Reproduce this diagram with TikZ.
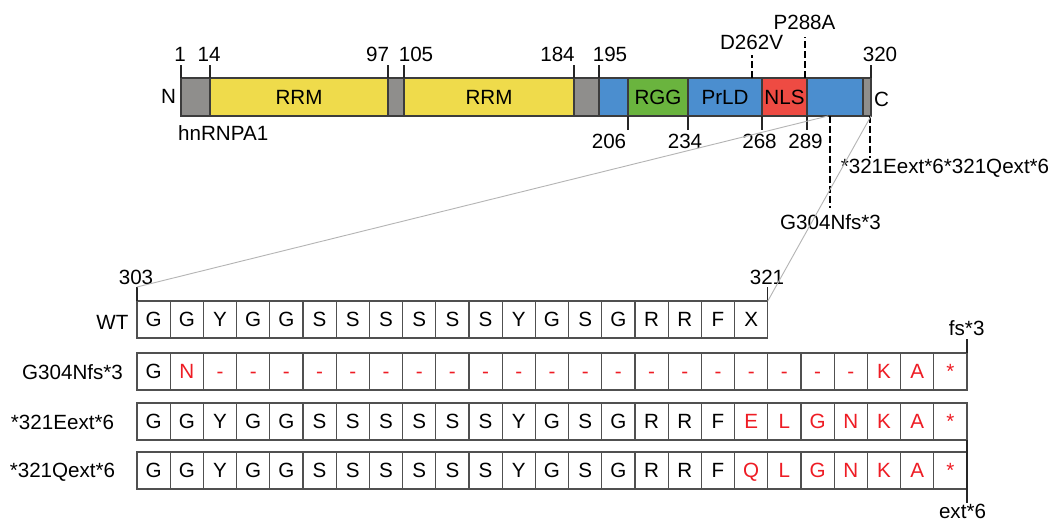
\documentclass[tikz,border=0pt]{standalone}
\usepackage{fontspec}
\setmainfont{Liberation Sans}
\definecolor{grayseg}{HTML}{8F8E8C}
\definecolor{yelseg}{HTML}{EFDB4B}
\definecolor{bluseg}{HTML}{4B8ECF}
\definecolor{greseg}{HTML}{6AB43E}
\definecolor{redseg}{HTML}{EE4B43}
\definecolor{bord}{HTML}{3C3C3C}
\definecolor{cellbord}{HTML}{505050}
\definecolor{redt}{HTML}{EE1C24}
\definecolor{zoomgray}{HTML}{B4B4B4}
\newcommand\rd[1]{\textcolor{redt}{#1}}
\newcommand\segm[5]{\node[seg,fill=#4,minimum width={#3-#2}] (#1) at (#2,97) {#5};}
\begin{document}
\begin{tikzpicture}[x=1pt,y=-1pt,
  font=\fontsize{20.6}{24}\selectfont,
  seg/.style={draw=bord,line width=1.2pt,inner sep=0pt,outer sep=0pt,minimum height=38pt,anchor=west},
  cell/.style={draw=cellbord,line width=1.2pt,inner sep=0pt,outer sep=0pt,minimum width=33.2pt,minimum height=37pt,text height=14.5pt,text depth=0pt,anchor=west},
  tick/.style={draw=black!85,line width=1.2pt},
  mutline/.style={draw=black,line width=2.4pt,dash pattern=on 7pt off 3pt},
  zoomline/.style={draw=zoomgray,line width=0.9pt},
  lab/.style={inner sep=0pt,anchor=base}]
\useasboundingbox (0,0) rectangle (1054,521);
\fill[white] (0,0) rectangle (1054,521);

% ---- protein bar ----
\segm{s1}{181}{210}{grayseg}{}
\segm{s2}{210}{388}{yelseg}{RRM}
\segm{s3}{388}{404}{grayseg}{}
\segm{s4}{404}{574}{yelseg}{RRM}
\segm{s5}{574}{599}{grayseg}{}
\segm{s6}{599}{628}{bluseg}{}
\segm{s7}{628}{688}{greseg}{RGG}
\segm{s8}{688}{762}{bluseg}{PrLD}
\segm{s9}{762}{807}{redseg}{NLS}
\segm{s10}{807}{863}{bluseg}{}
\segm{s11}{863}{871}{grayseg}{}

\node[lab] (lN) at (168.5,104) {N};
\node[lab] (lC) at (881.5,107) {C};
\node[lab,anchor=base west] (lname) at (178,141) {hnRNPA1};

% top ticks
\draw[tick] (s1.north west) -- ++(0,-13);
\draw[tick] (s2.north west) -- ++(0,-13);
\draw[tick] (s3.north west) -- ++(0,-13);
\draw[tick] (s4.north west) -- ++(0,-13);
\draw[tick] (s5.north west) -- ++(0,-13);
\draw[tick] (s6.north west) -- ++(0,-13);
\draw[tick] (s11.north east) -- ++(0,-13);
\node[lab] (n1) at (180,62) {1};
\node[lab] (n14) at (209,62) {14};
\node[lab] (n97) at (377.5,62) {97};
\node[lab] (n105) at (416,62) {105};
\node[lab] (n184) at (557.5,62) {184};
\node[lab] (n195) at (610,62) {195};
\node[lab] (n320) at (880,62) {320};

% bottom ticks
\draw[tick] (s7.south west) -- ++(0,14);
\draw[tick] (s8.south west) -- ++(0,14);
\draw[tick] (s9.south west) -- ++(0,14);
\draw[tick] (s10.south west) -- ++(0,14);
\node[lab] (n206) at (609,149) {206};
\node[lab] (n234) at (685,149) {234};
\node[lab] (n268) at (759.5,149) {268};
\node[lab] (n289) at (805.5,149) {289};

% mutations
\coordinate (md262) at (752,78);
\coordinate (mp288) at (805,78);
\coordinate (mg304) at (830,116);
\coordinate (mext) at (870,116);
\draw[mutline] (md262) -- ++(0,-23);
\draw[mutline] (mp288) -- ++(0,-41);
\draw[mutline] (mg304) -- ++(0,92);
\draw[mutline] (mext) -- ++(0,42);
\node[lab] (lD) at (751.5,50) {D262V};
\node[lab] (lP) at (804.5,30) {P288A};
\node[lab] (lG) at (830.5,230) {G304Nfs*3};
\node[lab] (lE) at (945,174) {*321Eext*6*321Qext*6};

% ---- sequence rows ----
\foreach \t [count=\i] in {G,G,Y,G,G,S,S,S,S,S,S,Y,G,S,G,R,R,F,X}
  \node[cell] (wt\i) at ({137+(\i-1)*33.2},319.5) {\t};
\foreach \t [count=\i] in {G,\rd{N},\rd{-},\rd{-},\rd{-},\rd{-},\rd{-},\rd{-},\rd{-},\rd{-},\rd{-},\rd{-},\rd{-},\rd{-},\rd{-},\rd{-},\rd{-},\rd{-},\rd{-},\rd{-},\rd{-},\rd{-},\rd{K},\rd{A},\rd{*}}
  \node[cell] (fs\i) at ({137+(\i-1)*33.2},371.5) {\t};
\foreach \t [count=\i] in {G,G,Y,G,G,S,S,S,S,S,S,Y,G,S,G,R,R,F,\rd{E},\rd{L},\rd{G},\rd{N},\rd{K},\rd{A},\rd{*}}
  \node[cell] (ee\i) at ({137+(\i-1)*33.2},421.5) {\t};
\foreach \t [count=\i] in {G,G,Y,G,G,S,S,S,S,S,S,Y,G,S,G,R,R,F,\rd{Q},\rd{L},\rd{G},\rd{N},\rd{K},\rd{A},\rd{*}}
  \node[cell] (qe\i) at ({137+(\i-1)*33.2},470.5) {\t};

\node[lab] (rWT) at (112.5,329) {WT};
\node[lab] (rG) at (72.5,379) {G304Nfs*3};
\node[lab] (rE) at (62.5,429) {*321Eext*6};
\node[lab] (rQ) at (62.5,477) {*321Qext*6};

% range ticks
\draw[tick] (wt1.north west) -- ++(0,-14) coordinate (t303);
\draw[tick] (wt19.north east) -- ++(0,-14) coordinate (t321);
\node[lab] (n303) at (136,284) {303};
\node[lab] (n321) at (767,284) {321};
\coordinate (z1) at (828,116);
\draw[zoomline] (t303) -- (z1);
\draw[zoomline] (wt19.north east) -- (s11.south east);

\draw[tick] (fs25.north east) -- ++(0,-14);
\node[lab] (lfs) at (966.7,335) {fs*3};
\draw[tick] (ee25.south east) -- ++(0,63);
\node[lab] (lext) at (962.5,518) {ext*6};
\end{tikzpicture}
\end{document}
